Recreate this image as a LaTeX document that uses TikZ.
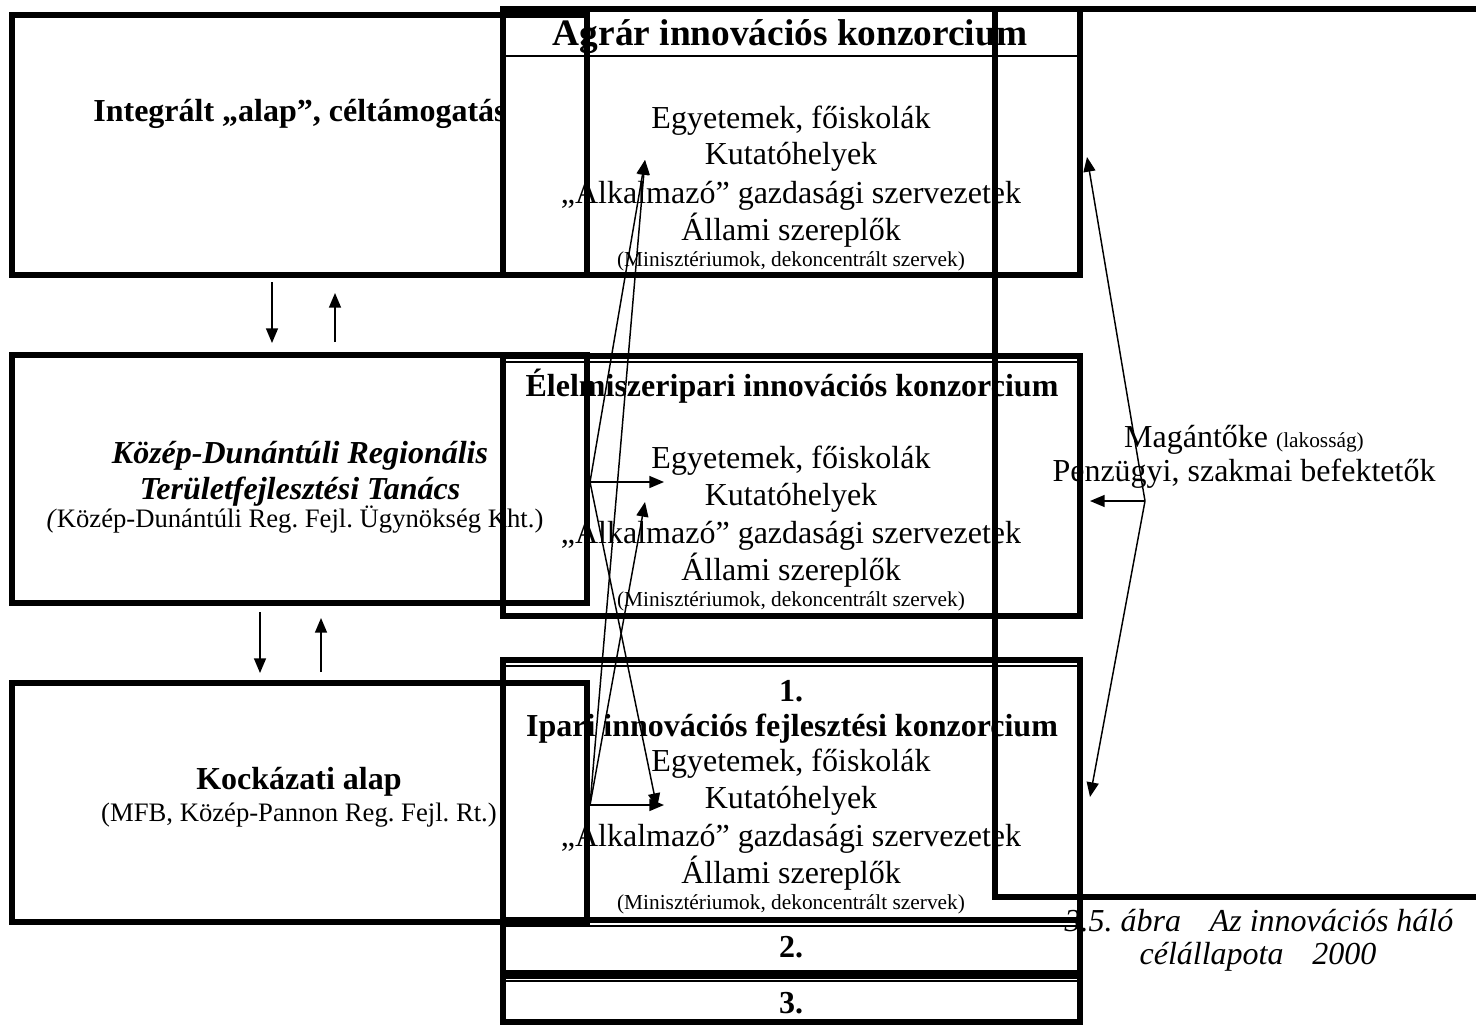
\documentclass[tikz,border=0pt]{standalone}
\usepackage{fontspec}
\setmainfont{Liberation Serif}
\usetikzlibrary{arrows.meta,fit}
\frenchspacing
\newcommand\fBody{\fontsize{24}{28}\selectfont}
\newcommand\fSmall{\fontsize{16}{19}\selectfont}
\newcommand\fMid{\fontsize{20}{24}\selectfont}
\newcommand\fHead{\fontsize{28}{32}\selectfont\bfseries}
\begin{document}
\begin{tikzpicture}[x=0.75pt,y=-0.75pt,
  thickbox/.style={draw, line width=4.2pt, inner sep=0pt},
  thinln/.style={line width=1.1pt},
  arr/.style={line width=1.1pt, -{Triangle[length=11pt,width=9pt]}},
  txt/.style={anchor=base, inner sep=0pt},
  body/.style={txt, font=\fBody},
  small/.style={txt, font=\fSmall},
  mid/.style={txt, font=\fMid},
  head/.style={txt, font=\fHead},
  bhead/.style={txt, font=\fBody\bfseries}
]
\useasboundingbox (0,0) rectangle (1476,1027);

% ---------- texts: left column ----------
\node[bhead] (t1) at (300,122) {Integrált „alap”, céltámogatás};
\node[txt, font=\fBody\bfseries\itshape] (t2a) at (300,463) {Közép-Dunántúli Regionális};
\node[txt, font=\fBody\bfseries\itshape] (t2b) at (300,499) {Területfejlesztési Tanács};
\node[mid] (t2c) at (295,527) {\textit{(}Közép-Dunántúli Reg. Fejl. Ügynökség Kht.)};
\node[bhead] (t3a) at (299,789) {Kockázati alap};
\node[mid] (t3b) at (299,821) {(MFB, Közép-Pannon Reg. Fejl. Rt.)};

% ---------- texts: Agrár ----------
\node[head] (ah) at (790,46) {Agrár innovációs konzorcium};
\node[body] (a1) at (791,128) {Egyetemek, főiskolák};
\node[body] (a2) at (791,165) {Kutatóhelyek};
\node[body] (a3) at (791,203) {„Alkalmazó” gazdasági szervezetek};
\node[body] (a4) at (791,240) {Állami szereplők};
\node[small] (a5) at (791,266) {(Minisztériumok, dekoncentrált szervek)};

% ---------- texts: Élelmiszeripari ----------
\node[bhead] (eh) at (792,396) {Élelmiszeripari innovációs konzorcium};
\node[body] (e1) at (791,468) {Egyetemek, főiskolák};
\node[body] (e2) at (791,505) {Kutatóhelyek};
\node[body] (e3) at (791,543) {„Alkalmazó” gazdasági szervezetek};
\node[body] (e4) at (791,580) {Állami szereplők};
\node[small] (e5) at (791,606) {(Minisztériumok, dekoncentrált szervek)};

% ---------- texts: Ipari ----------
\node[bhead] (i0) at (791,701) {1.};
\node[bhead] (ih) at (792,736) {Ipari innovációs fejlesztési konzorcium};
\node[body] (i1) at (791,771) {Egyetemek, főiskolák};
\node[body] (i2) at (791,808) {Kutatóhelyek};
\node[body] (i3) at (791,846) {„Alkalmazó” gazdasági szervezetek};
\node[body] (i4) at (791,883) {Állami szereplők};
\node[small] (i5) at (791,909) {(Minisztériumok, dekoncentrált szervek)};

\node[bhead] (n2) at (791,957) {2.};
\node[bhead] (n3) at (791,1013) {3.};

% ---------- right texts ----------
\node[txt, font=\fBody] (m1) at (1244,447) {Magántőke {\fSmall (lakosság)}};
\node[body] (m2) at (1244,481) {Penzügyi, szakmai befektetők};
\node[txt, font=\fBody\itshape] (c1) at (1259,931) {3.5. ábra\hspace{0.9em}Az innovációs háló};
\node[txt, font=\fBody\itshape] (c2) at (1258,964) {célállapota\hspace{0.9em}2000};

% ---------- consortium boxes ----------
\coordinate (agrTL) at (503,9);    \coordinate (agrBR) at (1080,275);
\coordinate (eleTL) at (503,356);  \coordinate (eleBR) at (1080,616);
\coordinate (ipaTL) at (503,660);  \coordinate (ipaBR) at (1080,920);
\coordinate (twoTL) at (503,920);  \coordinate (twoBR) at (1080,973);
\coordinate (thrTL) at (503,976);  \coordinate (thrBR) at (1080,1022);
\node[thickbox, fit=(agrTL)(agrBR)] (Agr) {};
\node[thickbox, fit=(eleTL)(eleBR)] (Ele) {};
\node[thickbox, fit=(ipaTL)(ipaBR)] (Ipa) {};
\node[thickbox, fit=(twoTL)(twoBR)] (Two) {};
\node[thickbox, fit=(thrTL)(thrBR)] (Thr) {};
\draw[thinln] (503,56) -- (1080,56);
\draw[thinln] (506,362) -- (1077,362);
\draw[thinln] (506,666) -- (1077,666);
\draw[thinln] (506,926) -- (1077,926);
\draw[thinln] (506,981) -- (1077,981);

% ---------- left boxes ----------
\coordinate (b1TL) at (12,15);   \coordinate (b1BR) at (587,275);
\coordinate (b2TL) at (12,355);  \coordinate (b2BR) at (587,603);
\coordinate (b3TL) at (12,683);  \coordinate (b3BR) at (587,922);
\node[thickbox, fit=(b1TL)(b1BR)] (B1) {};
\node[thickbox, fit=(b2TL)(b2BR)] (B2) {};
\node[thickbox, fit=(b3TL)(b3BR)] (B3) {};

% ---------- big open frame ----------
\draw[line width=4.2pt] (1480,9) -- (995,9) -- (995,897) -- (1480,897);

% ---------- vertical arrows between left boxes ----------
\coordinate (d1s) at (272,282); \coordinate (d1e) at (272,343);
\coordinate (u1s) at (335,342); \coordinate (u1e) at (335,293);
\coordinate (d2s) at (260,612); \coordinate (d2e) at (260,673);
\coordinate (u2s) at (321,672); \coordinate (u2e) at (321,618);
\draw[arr] (d1s) -- (d1e);
\draw[arr] (u1s) -- (u1e);
\draw[arr] (d2s) -- (d2e);
\draw[arr] (u2s) -- (u2e);

% ---------- fan arrows to consortia ----------
\coordinate (o1) at (590,482);
\coordinate (o2) at (590,805);
\coordinate (tA) at (645,160);
\coordinate (tEr) at (664,482);
\coordinate (tE) at (645,502);
\coordinate (tI) at (657,808);
\coordinate (tIr) at (664,805);
\draw[arr] (o1) -- (tA);
\draw[arr] (o2) -- (tA);
\draw[arr] (o1) -- (tEr);
\draw[arr] (o2) -- (tE);
\draw[arr] (o1) -- (tI);
\draw[arr] (o2) -- (tIr);

% ---------- private capital arrows ----------
\coordinate (mo) at (1145,501);
\coordinate (mA) at (1087,157);
\coordinate (mE) at (1090,501);
\coordinate (mI) at (1090,797);
\draw[arr] (mo) -- (mA);
\draw[arr] (mo) -- (mE);
\draw[arr] (mo) -- (mI);
\end{tikzpicture}
\end{document}
